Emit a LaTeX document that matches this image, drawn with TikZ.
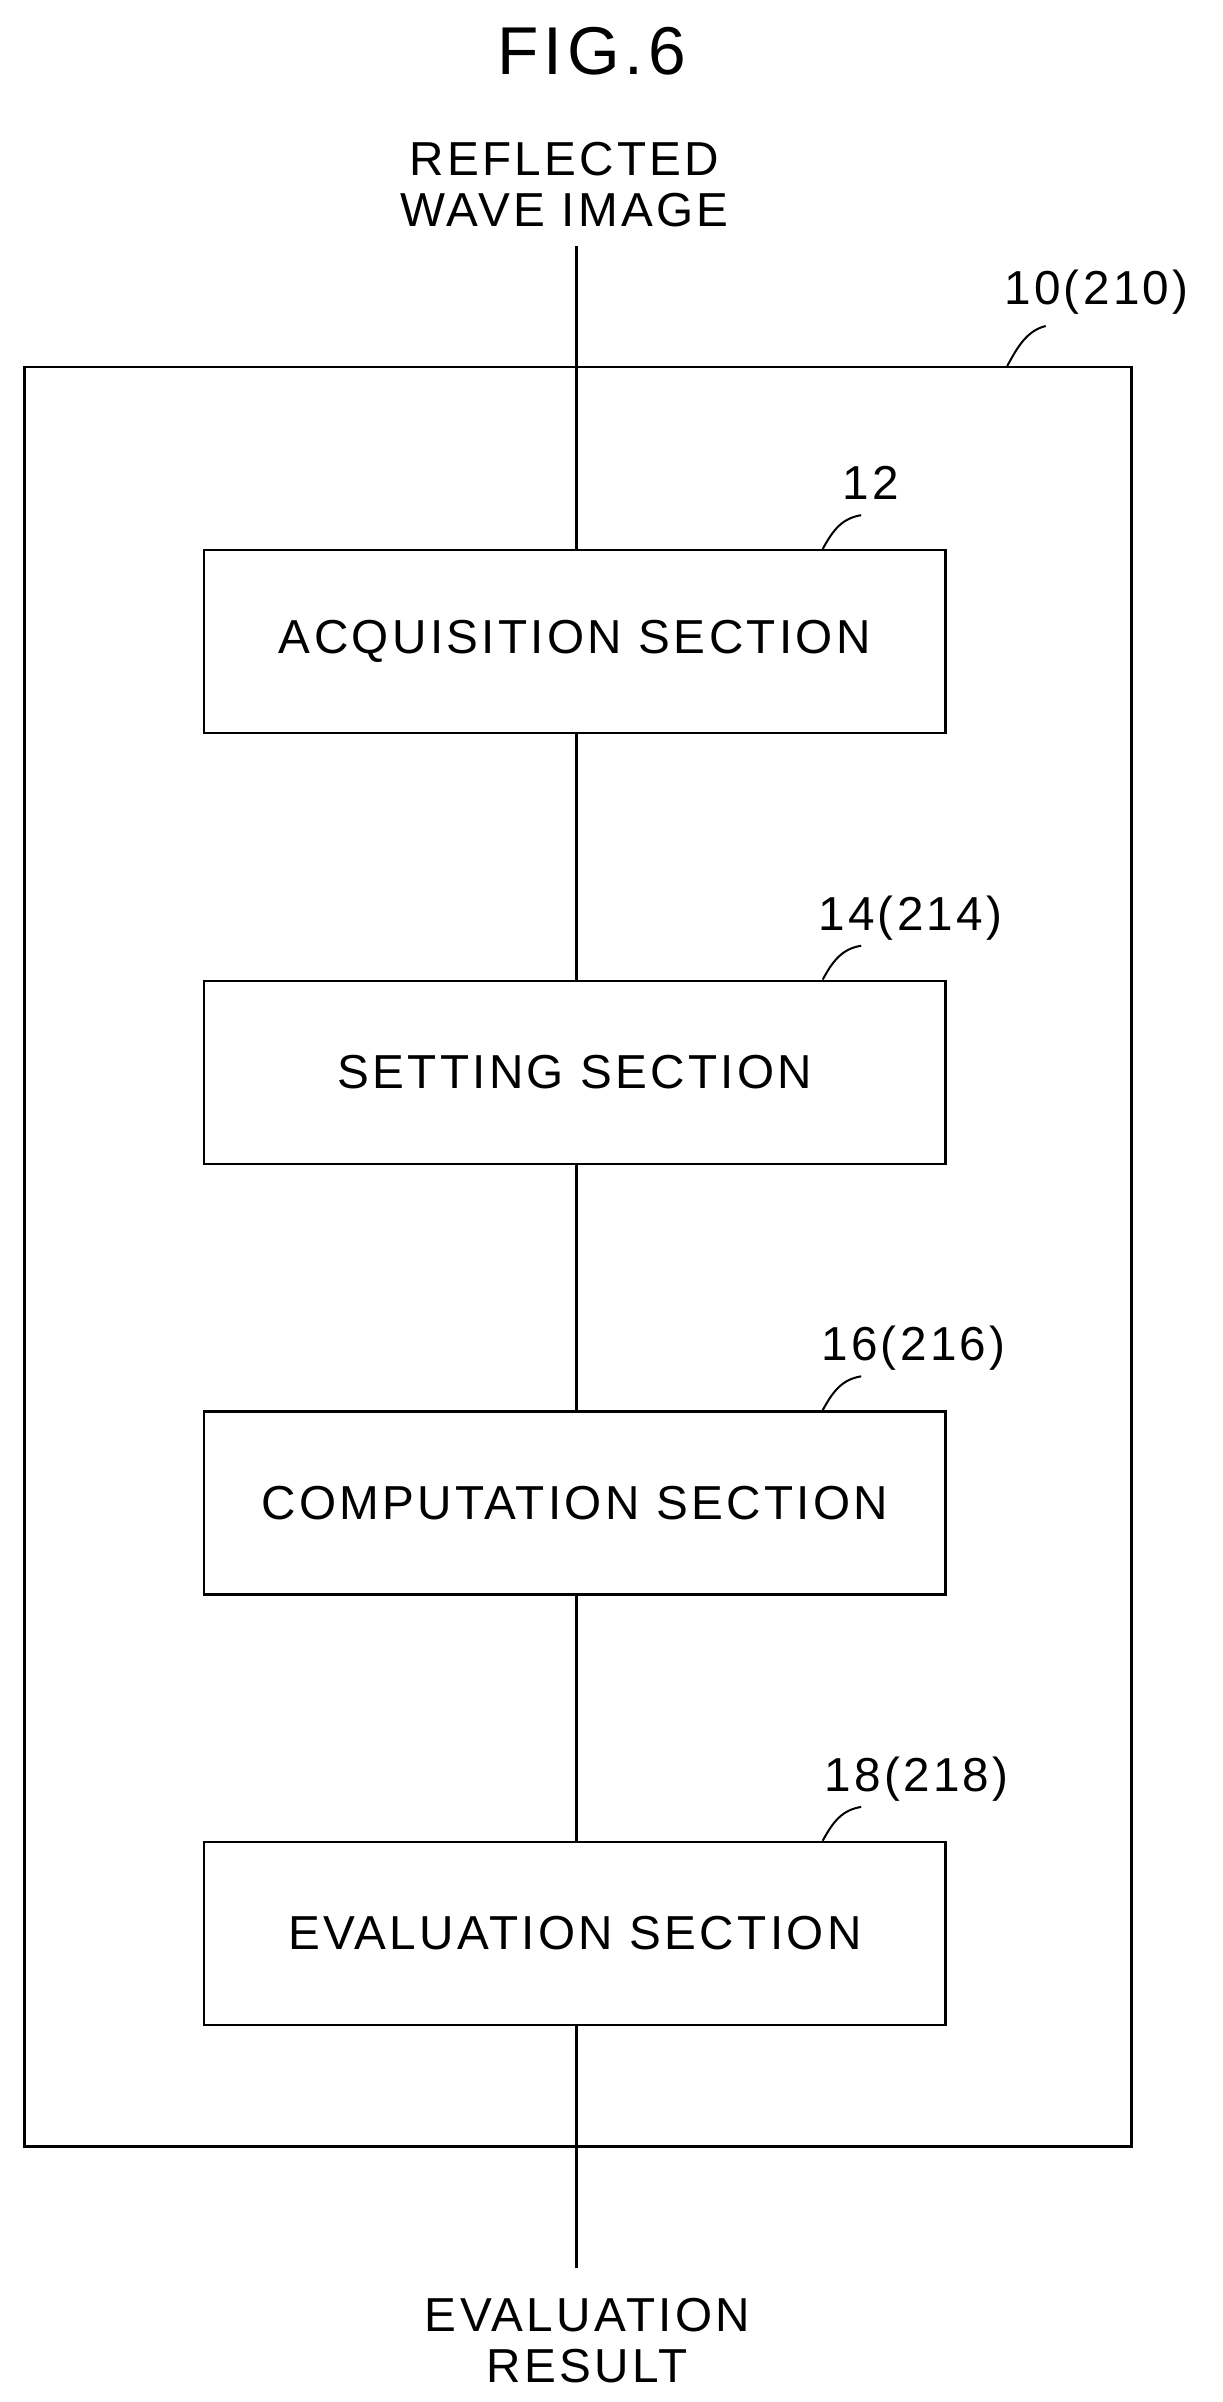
\documentclass[tikz,border=0pt]{standalone}
\usepackage{fontspec}
\setmainfont{Liberation Sans}[LetterSpace=7]
\begin{document}
\begin{tikzpicture}[x=1pt,y=-1pt,line width=1.6pt,
  box/.style={draw,minimum width=482pt,minimum height=119pt,anchor=north west,font=\fontsize{31}{35}\selectfont,inner sep=0pt},
  lab/.style={font=\fontsize{31}{35}\selectfont,inner sep=0pt},
  lead/.style={line width=1.3pt}]
\useasboundingbox (0,0) rectangle (795,1562);
\node[font=\fontsize{44}{50}\selectfont] (fig) at (385,33) {FIG.6};
\node[lab,align=center] (in) at (367,120) {REFLECTED\\[-2pt]WAVE IMAGE};
\node[draw,minimum width=720pt,minimum height=1157pt,anchor=north west,inner sep=0pt] (outer) at (15,238) {};
\node[box] (b1) at (132,357) {ACQUISITION SECTION};
\node[box] (b2) at (132,637) {SETTING SECTION};
\node[box] (b3) at (132,917) {COMPUTATION SECTION};
\node[box] (b4) at (132,1197) {EVALUATION SECTION};
\node[lab,align=center] (out) at (382,1522) {EVALUATION\\[-2pt]RESULT};
\coordinate (t) at (375,160);
\coordinate (e) at (375,1475);
\draw (t) -- (b1.north -| t);
\draw (b1.south -| t) -- (b2.north -| t);
\draw (b2.south -| t) -- (b3.north -| t);
\draw (b3.south -| t) -- (b4.north -| t);
\draw (b4.south -| t) -- (e);
\node[lab] (l0) at (713,190) {10(210)};
\node[lab] (l1) at (566,314) {12};
\node[lab] (l2) at (592,597) {14(214)};
\node[lab] (l3) at (594,877) {16(216)};
\node[lab] (l4) at (596,1157) {18(218)};
\draw[lead] (655,238) .. controls (662,225) and (668,215) .. (680,212);
\draw[lead] (535,357) .. controls (542,344) and (548,337) .. (560,335);
\draw[lead] (535,637) .. controls (542,624) and (548,617) .. (560,615);
\draw[lead] (535,917) .. controls (542,904) and (548,897) .. (560,895);
\draw[lead] (535,1197) .. controls (542,1184) and (548,1177) .. (560,1175);
\end{tikzpicture}
\end{document}
